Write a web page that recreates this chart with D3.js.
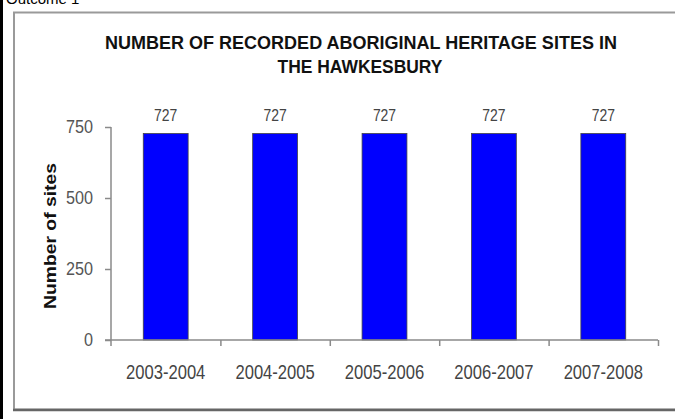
<!DOCTYPE html>
<html>
<head>
<meta charset="utf-8">
<script src="https://cdn.jsdelivr.net/npm/d3@7"></script>
<style>
  html, body { margin: 0; padding: 0; background: #fff; }
  svg { display: block; font-family: "Liberation Sans", Arial, sans-serif; }
</style>
</head>
<body>
<svg id="chart" width="675" height="419"></svg>
<script>
// ---- data ----
const categories = ["2003-2004", "2004-2005", "2005-2006", "2006-2007", "2007-2008"];
const siteCounts = [727, 727, 727, 727, 727];
const yTicks = [0, 250, 500, 750];
const titleLines = ["NUMBER OF RECORDED ABORIGINAL HERITAGE SITES IN", "THE HAWKESBURY"];
const yAxisTitle = "Number of sites";
const headerText = "Outcome 1";

const svg = d3.select("#chart");
const W = 675, H = 419;

// page fragments
svg.append("rect").attr("x", 0).attr("y", 0).attr("width", 3).attr("height", H).attr("fill", "#000");
svg.append("text").attr("x", 6).attr("y", 4).attr("font-size", 15).attr("fill", "#000").text(headerText);

// chart box
svg.append("rect").attr("x", 14).attr("y", 12.5).attr("width", W + 10).attr("height", 397)
  .attr("fill", "#fff").attr("stroke", "#9a9a9a").attr("stroke-width", 2);
svg.append("line").attr("x1", 13).attr("x2", W).attr("y1", 410).attr("y2", 410)
  .attr("stroke", "#666").attr("stroke-width", 2.5);

// scales
const plot = { left: 111, right: 658, top: 127, bottom: 340 };
const x = d3.scaleBand().domain(categories).range([plot.left, plot.right])
  .paddingInner(0.59).paddingOuter(0.295);
const y = d3.scaleLinear().domain([0, 750]).range([plot.bottom, plot.top]);
const xb = d3.scaleLinear().domain([0, categories.length]).range([plot.left, plot.right]);

function fitText(sel, targetWidth) {
  sel.each(function () {
    const w = this.getComputedTextLength();
    const s = targetWidth / w;
    const cx = +this.getAttribute("x");
    this.setAttribute("transform", `translate(${cx},0) scale(${s},1) translate(${-cx},0)`);
  });
}

// title
const title = svg.append("g").attr("fill", "#111").attr("font-weight", "bold").attr("font-size", 18)
  .attr("text-anchor", "middle");
title.append("text").attr("x", 361).attr("y", 49).text(titleLines[0]).call(fitText, 512);
title.append("text").attr("x", 360).attr("y", 73).text(titleLines[1]).call(fitText, 165);

// y axis title
svg.append("g").attr("transform", "translate(55.5,236) rotate(-90)")
  .append("text")
  .attr("text-anchor", "middle").attr("font-weight", "bold").attr("font-size", 17)
  .attr("fill", "#111").attr("x", 0).attr("y", 0).text(yAxisTitle).call(fitText, 146);

// bars
svg.append("g").selectAll("rect").data(siteCounts).join("rect")
  .attr("x", (d, i) => x(categories[i]))
  .attr("y", d => y(d))
  .attr("width", x.bandwidth())
  .attr("height", d => y(0) - y(d))
  .attr("fill", "#0000ff")
  .attr("stroke", "#444")
  .attr("stroke-width", 0.8);

// value labels
svg.append("g").attr("font-size", 17).attr("fill", "#444").attr("text-anchor", "middle")
  .selectAll("text").data(siteCounts).join("text")
  .attr("x", (d, i) => x(categories[i]) + x.bandwidth() / 2)
  .attr("y", d => y(d) - 13)
  .text(d => d)
  .each(function () {
    const cx = +this.getAttribute("x");
    this.setAttribute("transform", `translate(${cx},0) scale(0.82,1) translate(${-cx},0)`);
  });

// y axis
const yAxis = svg.append("g").attr("transform", `translate(${plot.left},0)`)
  .call(d3.axisLeft(y).tickValues(yTicks).tickSize(6).tickPadding(12).tickSizeOuter(0));
yAxis.select(".domain").remove();
yAxis.selectAll(".tick line").attr("stroke", "#8a8a8a").attr("stroke-width", 1.5);
yAxis.selectAll(".tick text").attr("font-size", 18).attr("fill", "#555")
  .attr("font-family", "Liberation Sans, Arial, sans-serif")
  .each(function () {
    this.setAttribute("transform", "translate(-18,0) scale(0.9,1) translate(18,0)");
  });
svg.append("line").attr("x1", plot.left).attr("x2", plot.left).attr("y1", y(750)).attr("y2", plot.bottom + 6)
  .attr("stroke", "#8a8a8a").attr("stroke-width", 1.5);

// x axis: boundaries + baseline
const xAxisB = svg.append("g").attr("transform", `translate(0,${plot.bottom})`)
  .call(d3.axisBottom(xb).tickValues(d3.range(1, categories.length + 1)).tickSize(6).tickFormat(""));
xAxisB.select(".domain").remove();
xAxisB.selectAll(".tick line").attr("stroke", "#8a8a8a").attr("stroke-width", 1.5);
svg.append("line").attr("x1", plot.left - 6).attr("x2", plot.right).attr("y1", plot.bottom).attr("y2", plot.bottom)
  .attr("stroke", "#8a8a8a").attr("stroke-width", 1.5);

// category labels
const xAxis = svg.append("g").attr("transform", `translate(0,${plot.bottom})`)
  .call(d3.axisBottom(x).tickSize(0).tickPadding(25));
xAxis.select(".domain").remove();
xAxis.selectAll(".tick text").attr("font-size", 20).attr("fill", "#444")
  .attr("font-family", "Liberation Sans, Arial, sans-serif")
  .attr("transform", "scale(0.83,1)");
</script>
</body>
</html>
